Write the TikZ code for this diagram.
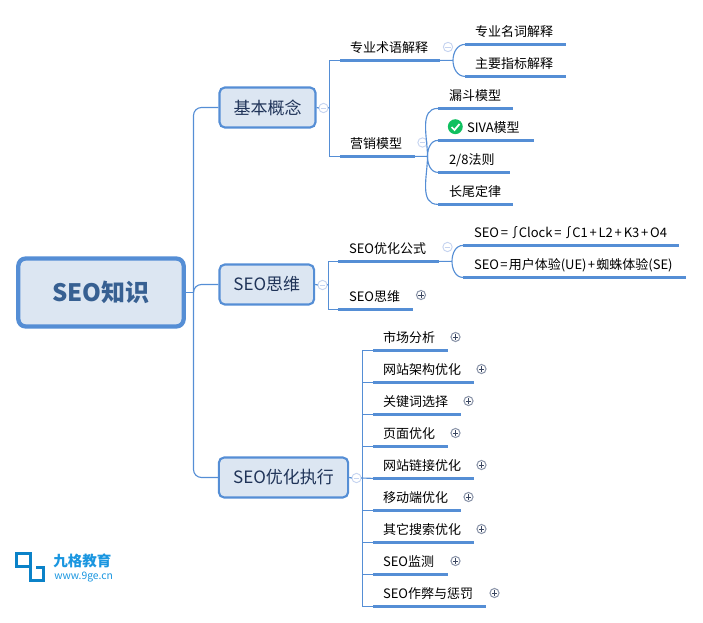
\documentclass[tikz,border=0pt]{standalone}
\usepackage{fontspec}
\setmainfont{Noto Sans CJK SC}
\usetikzlibrary{calc}
\definecolor{lnblue}{HTML}{558ED5}
\definecolor{boxfill}{HTML}{DCE6F2}
\definecolor{rootink}{HTML}{376092}
\definecolor{brink}{HTML}{1F3358}
\definecolor{minusc}{HTML}{C6D4F0}
\definecolor{plusc}{HTML}{8C96AA}
\definecolor{plusink}{HTML}{3A4660}
\definecolor{logoblue}{HTML}{0B82C8}
\definecolor{logotext}{HTML}{1A96E0}
\definecolor{okgreen}{HTML}{10C060}
\tikzset{
  x=0.75pt,y=-0.75pt,
  conn/.style={draw=lnblue,line width=0.85pt},
  ul/.style={draw=lnblue,line width=2.3pt},
  rootbox/.style={draw=lnblue,fill=boxfill,line width=3.2pt,rounded corners=5.5pt,minimum width=124pt,minimum height=51pt,inner sep=0pt,text=rootink,font=\fontsize{18}{20}\selectfont\bfseries},
  brbox/.style={draw=lnblue,fill=boxfill,line width=1.6pt,rounded corners=4pt,minimum height=30pt,inner sep=0pt,text=brink,font=\fontsize{12.75}{15}\selectfont},
  leafbox/.style={anchor=south west,inner sep=0pt,outer sep=0pt,align=left,text height=11pt,text depth=6pt,yshift=-0.3pt,font=\fontsize{9.75}{12}\selectfont},
  mn/.style={circle,draw=minusc,fill=white,line width=0.7pt,minimum size=7pt,inner sep=0pt,outer sep=0pt,
    path picture={\draw[minusc,line width=0.7pt] ($(path picture bounding box.center)+(-2.2pt,0)$) -- ($(path picture bounding box.center)+(2.2pt,0)$);}},
  pl/.style={circle,draw=plusc,fill=white,line width=0.8pt,minimum size=6.8pt,inner sep=0pt,outer sep=0pt,
    path picture={\draw[plusink,line width=0.6pt] ($(path picture bounding box.center)+(-2pt,0)$) -- ($(path picture bounding box.center)+(2pt,0)$) ($(path picture bounding box.center)+(0,-2pt)$) -- ($(path picture bounding box.center)+(0,2pt)$);}},
}
% name, x1, x2, y (of the underline), text; optional = left pad in px
\newcommand{\leafn}[6][10]{%
  \pgfmathsetmacro{\lw}{(#4-#3)*0.75}%
  \pgfmathsetmacro{\lp}{#1*0.75}%
  \node[leafbox,text width=\lw pt] (#2) at (#3,#5) {\hspace*{\lp pt}#6};%
  \draw[ul] (#2.south west) -- (#2.south east);%
}
\newcommand{\opa}[1]{\kern1.35pt#1\kern1.35pt}
\newcommand{\opb}[1]{\kern0.95pt#1\kern0.95pt}
\newcommand{\intg}{\kern-1pt∫\kern-2pt}
\begin{document}
\begin{tikzpicture}
\useasboundingbox (0,0) rectangle (703,623);
% root and branches
\node[rootbox] (root) at (101,292.5) {SEO知识};
\node[brbox,minimum width=72pt] (b1) at (267.5,107.5) {基本概念};
\node[brbox,minimum width=71pt] (b2) at (266.8,284.5) {SEO思维};
\node[brbox,minimum width=97pt] (b3) at (283.5,477.5) {SEO优化执行};
\coordinate (tr) at (193.5,292.5);
\draw[conn] (root.east) -- (tr);
\draw[conn,rounded corners=6pt] (tr) |- (b1.west);
\draw[conn,rounded corners=6pt] (tr) |- (b2.west);
\draw[conn,rounded corners=6pt] (tr) |- (b3.west);
% collapse icons
\node[mn] (m1) at (323.5,108) {};
\node[mn] (m2) at (322.5,285) {};
\node[mn] (m3) at (356.5,478) {};
\node[mn] (m4) at (448,47) {};
\node[mn] (m5) at (422.5,142.5) {};
\node[mn] (m6) at (447.5,247) {};
% first branch
\leafn{a1}{340}{440}{60}{专业术语解释}
\leafn{a2}{340}{414.5}{156}{营销模型}
\coordinate (k1) at (329.5,107.5);
\draw[conn] (b1.east) -- (m1.west) (m1.east) -- (k1);
\draw[conn] (a1.south west) -| (k1);
\draw[conn] (a2.south west) -| (k1);
\leafn{c1}{465}{565.5}{44}{专业名词解释}
\leafn{c2}{465}{565.5}{76}{主要指标解释}
\coordinate (j1) at (453,60.4);
\draw[conn] (a1.south east) -- (j1);
\draw[conn] (j1) to[out=90,in=180] (c1.south west);
\draw[conn] (j1) to[out=-90,in=180] (c2.south west);
\leafn[11]{d1}{438}{513}{108}{漏斗模型}
\leafn[29]{d2}{438}{534}{140}{SIVA模型}
\leafn[11]{d3}{438}{510}{172}{2/8法则}
\leafn[11]{d4}{438}{513}{204}{长尾定律}
\coordinate (j2) at (427.5,156.4);
\draw[conn] (a2.south east) -- (j2);
\draw[conn] (j2) to[out=90,in=180] (d1.south west);
\draw[conn] (j2) to[out=90,in=180] (d2.south west);
\draw[conn] (j2) to[out=-90,in=180] (d3.south west);
\draw[conn] (j2) to[out=-90,in=180] (d4.south west);
\fill[okgreen] (455.3,126.7) circle[radius=5.6pt];
\draw[white,line width=1.3pt] (451.5,127) -- (454.5,130) -- (459.5,124);
% second branch
\leafn[11]{e1}{338}{439}{261}{SEO优化公式}
\leafn[11]{e2}{338}{413}{309}{SEO思维}
\coordinate (k2) at (328.5,284.5);
\draw[conn] (b2.east) -- (m2.west) (m2.east) -- (k2);
\draw[conn] (e1.south west) -| (k2);
\draw[conn] (e2.south west) -| (k2);
\leafn[11]{f1}{463}{679}{245}{SEO\opa{=}\intg Clock\opa{=}\intg C1\opa{+}L2\opa{+}K3\opa{+}O4}
\leafn[11]{f2}{463}{686}{277}{SEO\opb{=}用户体验(UE)\opb{+}蜘蛛体验(SE)}
\coordinate (j3) at (452,261.4);
\draw[conn] (e1.south east) -- (j3);
\draw[conn] (j3) to[out=90,in=180] (f1.south west);
\draw[conn] (j3) to[out=-90,in=180] (f2.south west);
\node[pl] (p0) at (421,295) {};
% third branch
\leafn{g1}{373}{447.5}{350}{市场分析}
\leafn{g2}{373}{473.5}{382}{网站架构优化}
\leafn{g3}{373}{460.5}{414}{关键词选择}
\leafn{g4}{373}{447.5}{446}{页面优化}
\leafn{g5}{373}{473.5}{478}{网站链接优化}
\leafn{g6}{373}{460.5}{510}{移动端优化}
\leafn{g7}{373}{473.5}{542}{其它搜索优化}
\leafn{g8}{373}{447.5}{574}{SEO监测}
\leafn{g9}{373}{486}{606}{SEO作弊与惩罚}
\coordinate (k3) at (362.5,478);
\draw[conn] (b3.east) -- (m3.west) (m3.east) -- (g5.south west);
\foreach \n in {g1,g2,g3,g4,g6,g7,g8,g9}{\draw[conn] (\n.south west) -| (k3);}
\node[pl] (p1) at (455.5,337) {};
\node[pl] (p2) at (481.5,369) {};
\node[pl] (p3) at (468.5,401) {};
\node[pl] (p4) at (455.5,433) {};
\node[pl] (p5) at (481.5,465) {};
\node[pl] (p6) at (468.5,497) {};
\node[pl] (p7) at (481.5,529) {};
\node[pl] (p8) at (455.5,561) {};
\node[pl] (p9) at (494.5,593) {};
% logo
\draw[logoblue,line width=2.3pt] (30.5,566.5) -- (16.5,566.5) -- (16.5,553.5) -- (30.5,553.5) -- (30.5,580.5) -- (43.5,580.5) -- (43.5,567.5) -- (36,567.5);
\node[anchor=west,inner sep=0pt,text=logotext,font=\fontsize{10.9}{12}\selectfont\bfseries] (lg1) at (53,560.5) {九格教育};
\node[anchor=west,inner sep=0pt,text=logotext,font=\fontsize{7.75}{9}\selectfont] (lg2) at (54,577) {www.9ge.cn};
\end{tikzpicture}
\end{document}
